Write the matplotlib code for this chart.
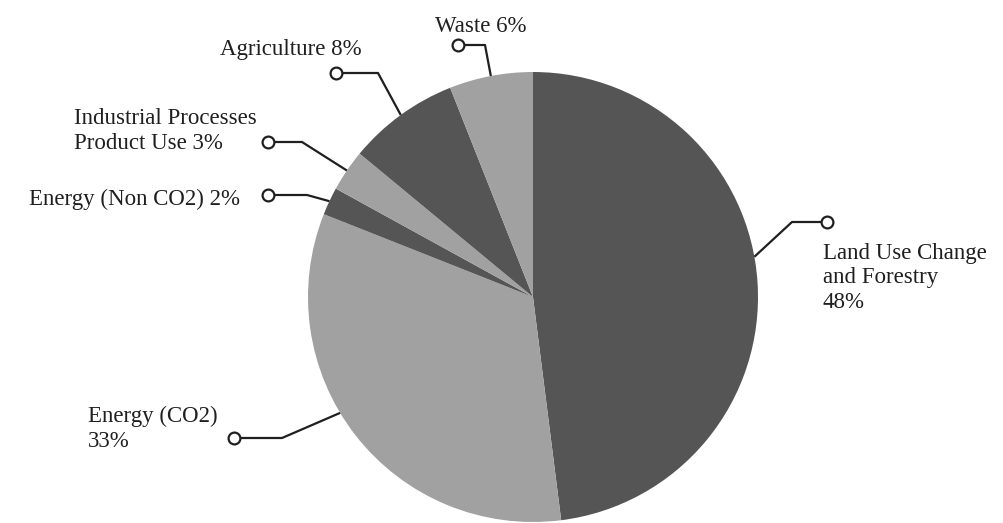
import numpy as np
import matplotlib
matplotlib.use("Agg")
import matplotlib.pyplot as plt

categories = ["Land Use Change\nand Forestry\n48%", "Energy (CO2)\n33%", "Energy (Non CO2) 2%",
              "Industrial Processes\nProduct Use 3%", "Agriculture 8%", "Waste 6%"]
values = [48, 33, 2, 3, 8, 6]
colors = ["#555555", "#a1a1a1", "#555555", "#a1a1a1", "#555555", "#a1a1a1"]

W, H = 1004, 523
fig = plt.figure(figsize=(W / 100, H / 100), dpi=100)
ax = fig.add_axes([0, 0, 1, 1])


def py(y):
    return H - y


cx, cy, R = 533, 297, 225
wedges, _ = ax.pie(values, colors=colors, startangle=90, counterclock=False,
                   center=(cx, py(cy)), radius=R, wedgeprops=dict(linewidth=0),
                   frame=True)
ax.set_xlim(0, W)
ax.set_ylim(0, H)
ax.set_aspect("equal")
ax.axis("off")

# label layout: (angle offset of connector, elbow xy, marker xy, text xy (last baseline), ha)
layout = [
    (6.7, (792, 222), (827, 222), (823, 308), "left"),
    (-6.8, (282, 438), (234, 438), (218, 447), "right"),
    (0, (307, 195), (268, 195), (240, 205), "right"),
    (0, (302, 142), (268, 142), (257, 149), "right"),
    (0, (378, 73), (336, 73), (291, 55), "center"),
    (0, (485, 45), (458, 45), (481, 32), "center"),
]

tc = "#1f1f1f"
font = dict(family=["Liberation Serif", "DejaVu Serif"], fontsize=16.5, color=tc,
            linespacing=1.22)
for w, lab, (off, elbow, mk, txy, ha) in zip(wedges, categories, layout):
    mid = np.deg2rad((w.theta1 + w.theta2) / 2 + off)
    ex = cx + R * np.cos(mid)
    ey = py(cy) + R * np.sin(mid)
    ax.plot([ex, elbow[0], mk[0]], [ey, py(elbow[1]), py(mk[1])], color=tc, lw=1.6,
            solid_capstyle="butt", zorder=3)
    ax.plot([mk[0]], [py(mk[1])], marker="o", ms=8.5, mfc="white", mec=tc, mew=1.6, zorder=4)
    ax.text(txy[0], py(txy[1]), lab, ha=ha, va="baseline", multialignment="left", **font)

fig.savefig("out.png", dpi=100)
